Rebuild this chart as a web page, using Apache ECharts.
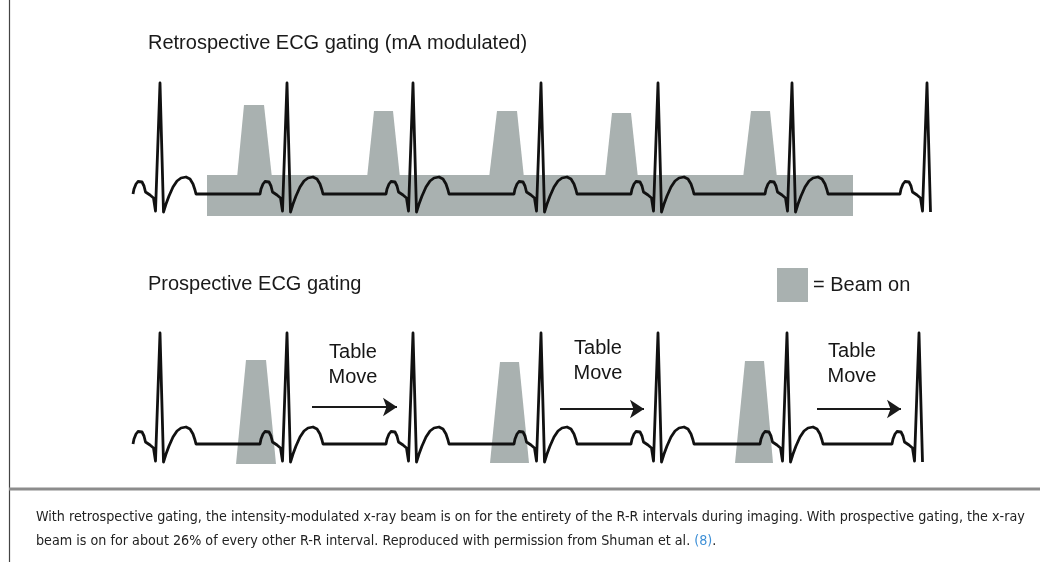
<!DOCTYPE html>
<html>
<head>
<meta charset="utf-8">
<script src="https://cdn.jsdelivr.net/npm/echarts@6/dist/echarts.min.js"></script>
<style>
  html, body { margin: 0; padding: 0; background: #fff; }
  #chart { width: 1040px; height: 562px; }
</style>
</head>
<body>
<div id="chart"></div>
<script>
// R-peak positions of each row (x, canvas units)
const retroPeaks = [160, 287, 413, 541, 658, 792, 927];
const prospPeaks = [160, 287, 413, 541, 658, 787, 919];
// baseline level of each row
const retroBaseline = 194;
const prospBaseline = 444;

// one heart beat, offsets from the R peak and height above baseline
const beatDx  = [-27, -26, -24, -22, -20, -18, -16, -14.5, -14, -10, -8, -6.5, -4.5, 0, 3.5, 6, 9, 13, 17, 21, 26, 30, 33, 35, 36];
const beatAmp = [0, 5, 10, 12.5, 13, 12, 8, 2, 0, -1, -2.5, -4, -17, 111, -18, -10, -2, 7, 13, 16, 17, 15, 10, 4, 0];

// beam-on shapes: [bottomLeft, bottomRight, topLeft, topRight, topY, bottomY]
const retroBeam = [
    [207, 853, 207, 853, 175, 216],
    [237, 272, 244, 264, 105, 178],
    [367, 400, 374, 393, 111, 178],
    [489, 524, 497, 517, 111, 178],
    [605, 638, 612, 631, 113, 178],
    [743, 777, 751, 770, 111, 178]
];
const prospBeam = [
    [236, 276, 246, 266, 360, 464],
    [490, 529, 500, 519, 362, 463],
    [735, 773, 745, 764, 361, 463]
];

// table move arrows and their labels
const arrowFrom = [[312, 407], [560, 409], [817, 409]];
const arrowTo   = [[397, 407], [644, 409], [901, 409]];
const tableMoveAt = [[353, 365], [598, 361], [852, 364]];

const BEAM = '#a9b1b0';
const INK = '#111';

const buildEcg = (peaks, baseline) => {
    const pts = [];
    peaks.forEach((r, k) => {
        const last = k === peaks.length - 1;
        for (let j = 0; j < beatDx.length; j++) {
            if (last && beatDx[j] > 4) break;
            pts.push([r + beatDx[j], baseline - beatAmp[j]]);
        }
    });
    return pts;
};

const renderBeam = (params, api) => {
    const yTop = api.value(4);
    const yBot = api.value(5);
    const pts = [
        api.coord([api.value(0), yBot]),
        api.coord([api.value(2), yTop]),
        api.coord([api.value(3), yTop]),
        api.coord([api.value(1), yBot])
    ];
    return { type: 'polygon', shape: { points: pts }, style: { fill: BEAM } };
};

const chart = echarts.init(document.getElementById('chart'), null, { renderer: 'canvas' });

const capFont = "'Liberation Sans Narrow', 'DejaVu Sans Condensed', sans-serif";
const mainFont = 'Liberation Sans, Arial, sans-serif';

const renderTableMove = (params, api) => {
    const p = api.coord([api.value(0), api.value(1)]);
    return {
        type: 'text',
        x: p[0],
        y: p[1],
        style: {
            text: 'Table\nMove',
            fill: '#161616',
            fontSize: 20,
            lineHeight: 25,
            fontFamily: mainFont,
            align: 'center',
            verticalAlign: 'middle'
        }
    };
};

chart.setOption({
    animation: false,
    grid: { left: 0, right: 0, top: 0, bottom: 0 },
    xAxis: { type: 'value', min: 0, max: 1040, show: false },
    yAxis: { type: 'value', min: 0, max: 562, inverse: true, show: false },
    legend: {
        left: 772,
        top: 263,
        itemWidth: 31,
        itemHeight: 34,
        data: [{ name: 'Beam on', icon: 'rect' }],
        formatter: '= {name}',
        textStyle: { fontSize: 20, color: '#1a1a1a', fontFamily: mainFont },
        selectedMode: false
    },
    series: [
        {
            name: 'Beam on',
            type: 'custom',
            renderItem: renderBeam,
            itemStyle: { color: BEAM },
            encode: { x: [0, 1], y: [4, 5] },
            data: retroBeam.concat(prospBeam),
            z: 1
        },
        {
            name: 'Retrospective',
            type: 'line',
            data: buildEcg(retroPeaks, retroBaseline),
            showSymbol: false,
            lineStyle: { color: INK, width: 2.8, join: 'round' },
            z: 3
        },
        {
            name: 'Prospective',
            type: 'line',
            data: buildEcg(prospPeaks, prospBaseline),
            showSymbol: false,
            lineStyle: { color: INK, width: 2.8, join: 'round' },
            z: 3
        },
        {
            name: 'Table move',
            type: 'lines',
            coordinateSystem: 'cartesian2d',
            symbol: ['none', 'arrow'],
            symbolSize: 14,
            lineStyle: { color: '#1a1a1a', width: 2, opacity: 1 },
            data: arrowFrom.map((p, i) => ({ coords: [p, arrowTo[i]] })),
            z: 3
        },
        {
            name: 'Table move label',
            type: 'custom',
            renderItem: renderTableMove,
            data: tableMoveAt,
            z: 4
        }
    ],
    graphic: [
        { type: 'line', shape: { x1: 9.5, y1: 0, x2: 9.5, y2: 562 }, style: { stroke: '#444', lineWidth: 1.2 } },
        { type: 'line', shape: { x1: 9, y1: 489, x2: 1040, y2: 489 }, style: { stroke: '#8c8c8c', lineWidth: 3 } },
        {
            type: 'text', left: 148, top: 33,
            style: { text: 'Retrospective ECG gating (mA modulated)', fontSize: 20, fill: '#1a1a1a', fontFamily: mainFont }
        },
        {
            type: 'text', left: 148, top: 274,
            style: { text: 'Prospective ECG gating', fontSize: 20, fill: '#1a1a1a', fontFamily: mainFont }
        },
        {
            type: 'text', left: 36, top: 510,
            style: {
                text: 'With retrospective gating, the intensity-modulated x-ray beam is on for the entirety of the R-R intervals during imaging. With prospective gating, the x-ray',
                fontSize: 14.2, fill: '#222', fontFamily: capFont
            }
        },
        {
            type: 'text', left: 36, top: 534,
            style: {
                text: '{a|beam is on for about 26% of every other R-R interval. Reproduced with permission from Shuman et al. }{b|(8)}{a|.}',
                rich: {
                    a: { fontSize: 14.2, fill: '#222', fontFamily: capFont },
                    b: { fontSize: 14.2, fill: '#3d8fd6', fontFamily: capFont }
                }
            }
        }
    ]
});
</script>
</body>
</html>
